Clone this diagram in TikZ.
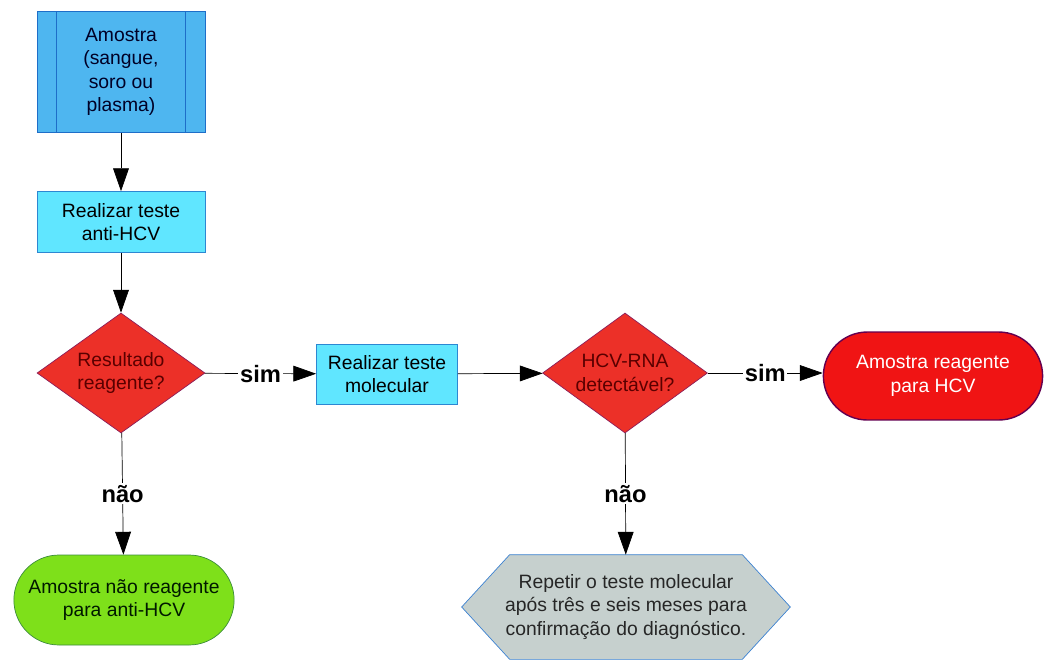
\documentclass[tikz,border=0pt]{standalone}
\usepackage{fontspec}
\setmainfont{Liberation Sans}
\usepackage{xcolor}
\usetikzlibrary{shapes,arrows.meta,positioning}

\definecolor{sampleblue}{RGB}{78,182,240}
\definecolor{sampleline}{RGB}{30,110,200}
\definecolor{testcyan}{RGB}{96,230,255}
\definecolor{testline}{RGB}{45,135,210}
\definecolor{decred}{RGB}{236,48,40}
\definecolor{decline}{RGB}{140,30,90}
\definecolor{dectext}{RGB}{90,0,0}
\definecolor{posred}{RGB}{240,20,20}
\definecolor{posline}{RGB}{100,0,80}
\definecolor{neggreen}{RGB}{126,224,26}
\definecolor{negline}{RGB}{60,140,60}
\definecolor{repgray}{RGB}{198,208,206}
\definecolor{repline}{RGB}{60,130,210}

\begin{document}
\begin{tikzpicture}[
    x=0.02cm, y=-0.02cm,
    font=\fontsize{11}{13.3}\selectfont,
    sample/.style={rectangle, draw=sampleline, fill=sampleblue, text=black!85!blue, minimum width=3.36cm, minimum height=2.42cm, align=center},
    box/.style={rectangle, draw=testline, fill=testcyan, minimum width=3.36cm, minimum height=1.22cm, align=center},
    decision/.style={diamond, draw=decline, fill=decred, text=dectext, shape aspect=1.4, inner sep=0pt, minimum width=3.36cm, minimum height=2.4cm, align=center},
    endpos/.style={rounded rectangle, draw=posline, thick, fill=posred, text=white, minimum width=4.62cm, minimum height=1.76cm, align=center},
    endneg/.style={rounded rectangle, draw=negline, fill=neggreen, text=black!90!green, minimum width=4.64cm, minimum height=1.8cm, align=center},
    arrow/.style={-{Triangle[length=13pt,width=9pt]}, black},
    lbl/.style={fill=white, font=\bfseries\fontsize{13.5}{16}\selectfont, inner sep=1pt}
]
    \useasboundingbox (0,0) rectangle (1045,660);

    \node[sample] (amostra) at (121,72) {Amostra\\(sangue,\\soro ou\\plasma)};
    \draw[sampleline] ([xshift=0.4cm]amostra.north west) -- ([xshift=0.4cm]amostra.south west);
    \draw[sampleline] ([xshift=-0.4cm]amostra.north east) -- ([xshift=-0.4cm]amostra.south east);

    \node[box] (antihcv) at (121,222) {Realizar teste\\anti-HCV};
    \node[decision] (resultado) at (121,373) {Resultado\\reagente?};
    \node[box, minimum width=2.82cm, minimum height=1.2cm] (molecular) at (387,374) {Realizar teste\\molecular};
    \node[decision, minimum width=3.3cm] (hcvrna) at (625,373) {HCV-RNA\\detectável?};
    \node[endpos] (reagente) at (933,376) {Amostra reagente\\para HCV};
    \node[endneg] (naoreag) at (124,600) {Amostra não reagente\\para anti-HCV};

    % hexagon for the repeat step
    \node[minimum width=4.64cm, minimum height=2.08cm, align=center] (repetir) at (626,607) {};
    \draw[draw=repline, fill=repgray] (repetir.north west) -- (repetir.north east)
        -- ([xshift=0.96cm]repetir.east) -- (repetir.south east) -- (repetir.south west)
        -- ([xshift=-0.96cm]repetir.west) -- cycle;
    \node[align=center, text=black!85] at (repetir) {Repetir o teste molecular\\após três e seis meses para\\confirmação do diagnóstico.};

    \draw[arrow] (amostra) -- (antihcv);
    \draw[arrow] (antihcv) -- (resultado);
    \draw[arrow] (resultado) -- node[lbl] {sim} (molecular);
    \draw[arrow] (resultado) -- node[lbl] {não} (naoreag);
    \draw[arrow] (molecular) -- (hcvrna);
    \draw[arrow] (hcvrna) -- node[lbl] {sim} (reagente.west |- hcvrna);
    \draw[arrow] (hcvrna) -- node[lbl] {não} (repetir);
\end{tikzpicture}
\end{document}
